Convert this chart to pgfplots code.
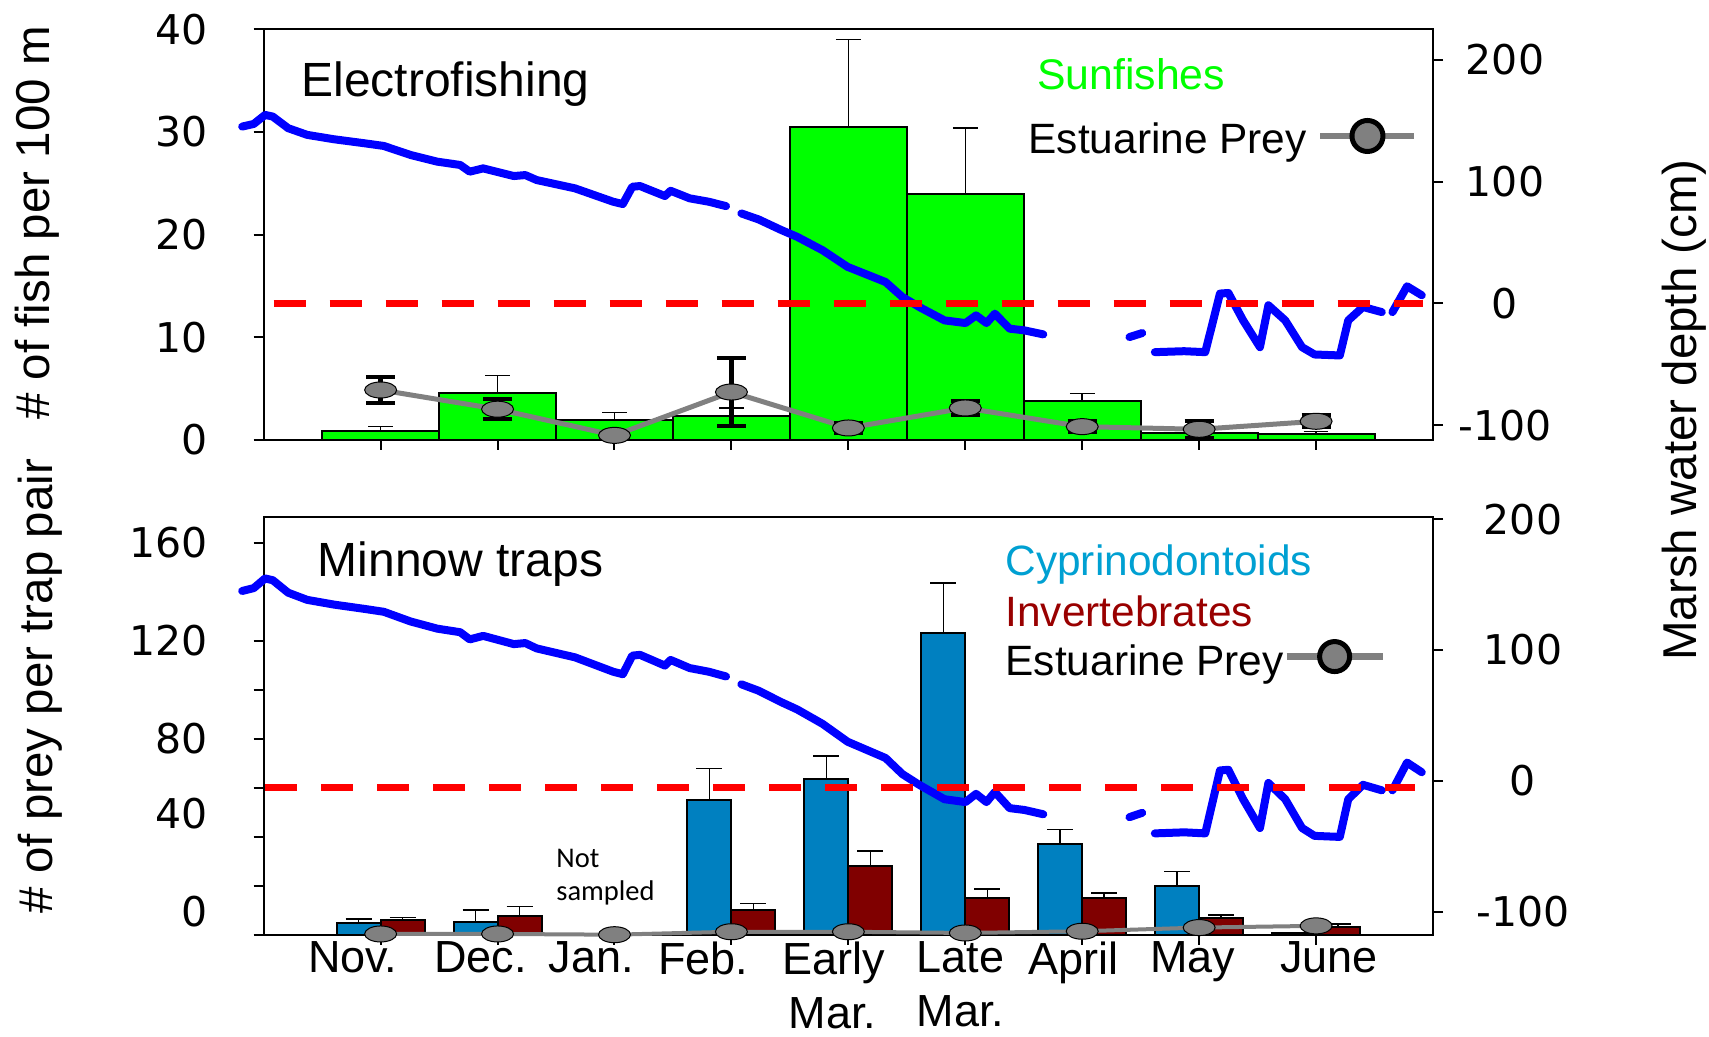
\documentclass[border=0pt]{standalone}
\usepackage{pgfplots}
\usepackage{pgfplotstable}
\pgfplotsset{compat=1.18}
\usepackage{fontspec}
\setmainfont{Liberation Sans}
\newfontfamily\tickfont{DejaVu Sans}
\newfontfamily\calfont{Carlito}

\definecolor{sungreen}{RGB}{0,255,0}
\definecolor{cypbar}{RGB}{0,128,192}
\definecolor{cyptext}{RGB}{0,160,210}
\definecolor{invbar}{RGB}{128,0,0}
\definecolor{invtext}{RGB}{153,0,0}
\definecolor{preygray}{RGB}{128,128,128}
\definecolor{depthblue}{RGB}{0,0,255}
\definecolor{zerored}{RGB}{255,0,0}

% shifted, zero-width tick label: #1 = horizontal shift of the centre
\newcommand\lab[2]{\makebox[0pt]{\hspace*{\dimexpr 2\dimexpr #1\relax\relax}#2}}

\pgfplotstableread{
x y err
0 0.90 0.40
1 4.55 1.75
2 1.90 0.80
3 2.30 0.80
4 30.50 8.50
5 23.95 6.45
6 3.80 0.75
7 0.65 0.20
8 0.60 0.25
}\sunfish

\pgfplotstableread{
x y err
0 4.87 1.30
1 3.00 1.00
2 0.45 0.20
3 4.67 3.30
4 1.17 0.45
5 3.12 0.70
6 1.30 0.55
7 1.04 0.85
8 1.82 0.60
}\preytop

% bar centres: category -/+ 0.188 (the two bars of a pair touch)
\pgfplotstableread{
x y err
-0.188 4.6 1.9
0.812 5.2 4.9
2.812 55.1 12.7
3.812 63.5 9.5
4.812 122.9 20.6
5.812 37.1 5.8
6.812 19.9 5.8
7.812 0.8 0.0
}\cyprino

\pgfplotstableread{
x y err
0.188 5.8 1.2
1.188 7.8 3.8
3.188 10.1 2.7
4.188 28.1 6.1
5.188 14.8 3.8
6.188 15.1 2.0
7.188 7.0 1.1
8.188 3.2 1.1
}\invert

\pgfplotstableread{
x y
0 0.3
1 0.3
2 0.0
3 1.2
4 1.2
5 0.7
6 1.4
7 2.9
8 3.6
}\preybot

\pgfplotstableread{
x d
-1.184 145.1
-1.085 147.3
-0.988 154.7
-0.922 153.3
-0.791 143.8
-0.628 138.3
-0.399 134.7
-0.137 131.4
0.027 129.2
0.256 121.8
0.485 116.3
0.680 113.6
0.762 108.1
0.877 110.8
1.139 104.5
1.237 105.3
1.335 101.2
1.662 94.4
1.989 83.4
2.071 81.5
2.152 95.7
2.218 96.3
2.431 88.1
2.480 92.4
2.643 86.2
2.807 83.4
2.954 79.8
nan nan
3.085 73.8
3.232 68.9
3.428 60.1
3.562 54.6
3.779 43.6
3.994 29.9
4.138 24.4
4.318 17.5
4.462 5.2
4.606 -3.0
4.822 -14.0
5.002 -16.2
5.092 -9.9
5.181 -16.2
5.253 -8.5
5.379 -20.8
5.505 -22.2
5.667 -25.5
nan nan
6.404 -27.7
6.513 -24.4
nan nan
6.621 -40.1
6.872 -39.3
7.052 -40.1
7.178 8.0
7.250 8.5
7.376 -14.0
7.520 -36.0
7.592 -1.6
7.736 -14.0
7.880 -36.0
7.987 -42.0
8.203 -42.8
8.275 -14.0
8.401 -3.0
8.562 -7.2
nan nan
8.653 -7.2
8.778 14.0
8.904 6.6
}\depth

\pgfplotsset{
  panel/.style={scale only axis, width=584.65pt, xmin=-1, xmax=9, clip=false,
    tick align=outside, major tick length=5pt,
    tick style={black, line width=1pt},
    axis line style={black, line width=1pt},
    unbounded coords=jump,
    yticklabel style={font=\tickfont\fontsize{20.5}{24}\selectfont, inner sep=0pt}},
  leftax/.style={panel, ytick pos=left, xtick={0,...,8}, xtick pos=left,
    yticklabel style={anchor=east, xshift=-23pt}},
  rightax/.style={panel, axis y line*=right, axis x line=none,
    ytick={-100,0,100,200}, yticklabels={-100,0,100,200},
    yticklabel style={anchor=center}},
  preylegend/.style={legend style={draw=none, fill=none, inner sep=0pt, outer sep=0pt,
    nodes={inner sep=0pt}, anchor=center}},
  barerr/.style={error bars/.cd, y dir=plus, y explicit,
    error bar style={black, line width=0.75pt},
    error mark options={rotate=90, black, mark size=#1, line width=0.75pt}},
}

\begin{document}
\begin{tikzpicture}
\useasboundingbox (0,0) rectangle (854.5pt,518.5pt);

% ---------- top panel, left axis ----------
\begin{axis}[leftax, at={(131.85pt,298.5pt)}, anchor=south west, height=205.35pt,
  ymin=0, ymax=40, ytick={0,10,20,30,40}, yticklabels={0,10,20,30,40},
  xticklabels={{},{},{},{},{},{},{},{},{}},
  preylegend, legend style={at={(0.9448,0.7402)}}]
\addplot[forget plot, ybar, bar width=58.5pt, fill=sungreen, draw=black, line width=1pt,
  barerr=6.2pt]
  table[x=x, y=y, y error=err]{\sunfish};
\addplot[preygray, line width=2.5pt, mark=*, mark size=4pt,
  mark options={solid, fill=preygray, draw=black, line width=0.5pt, xscale=2},
  legend image code/.code={\draw[preygray, line width=3.3pt] (-23.5pt,0pt) -- (23.5pt,0pt);
    \draw[fill=preygray, draw=black, line width=2.5pt] (0pt,0pt) circle (7.75pt);},
  error bars/.cd, y dir=both, y explicit,
  error bar style={black, line width=2.5pt},
  error mark options={rotate=90, black, mark size=7.25pt, line width=2pt}]
  table[x=x, y=y, y error=err]{\preytop};
\addlegendentry{}
\end{axis}

% ---------- top panel, right axis ----------
\begin{axis}[rightax, at={(131.85pt,298.5pt)}, anchor=south west, height=205.35pt,
  ymin=-112.2, ymax=225, yticklabel style={xshift=31pt}]
\addplot[depthblue, line width=4pt, line cap=round, line join=round] table[x=x, y=d]{\depth};
\addplot[zerored, line width=3.7pt, dash pattern=on 16pt off 12pt] coordinates {(-0.915,0) (8.915,0)};
\end{axis}

% ---------- bottom panel, left axis ----------
\begin{axis}[leftax, at={(131.85pt,51.15pt)}, anchor=south west, height=208.7pt,
  ymin=0, ymax=170.3, ytick={0,20,40,60,80,100,120,160},
  yticklabels={\raisebox{4pt}[0pt][0pt]{0},,\raisebox{4pt}[0pt][0pt]{40},,80,,120,160},
  xticklabels={\lab{-14pt}{Nov.},\lab{-8.5pt}{Dec.},\lab{-11.5pt}{Jan.},\lab{-14pt}{Feb.},
    {\lab{-7.5pt}{Early}\\\lab{-8pt}{Mar.}},{\lab{-2.5pt}{Late}\\\lab{-2.5pt}{Mar.}},
    \lab{-4.25pt}{April},\lab{-3.25pt}{May},\lab{6.5pt}{June}},
  xticklabel style={font=\fontsize{22.5}{27}\selectfont, align=center, inner sep=0pt, anchor=north, yshift=1.6pt},
  preylegend, legend style={at={(0.9167,0.6663)}}]
\addplot[forget plot, ybar, bar width=22pt, fill=cypbar, draw=black, line width=1pt,
  barerr=6.5pt]
  table[x=x, y=y, y error=err]{\cyprino};
\addplot[forget plot, ybar, bar width=22pt, fill=invbar, draw=black, line width=1pt,
  barerr=6.5pt]
  table[x=x, y=y, y error=err]{\invert};
\addplot[preygray, line width=2pt, mark=*, mark size=4pt,
  mark options={solid, fill=preygray, draw=black, line width=0.5pt, xscale=2},
  legend image code/.code={\draw[preygray, line width=3.3pt] (-24pt,0pt) -- (24pt,0pt);
    \draw[fill=preygray, draw=black, line width=2.5pt] (0pt,0pt) circle (7.5pt);}]
  table[x=x, y=y]{\preybot};
\addlegendentry{}
\end{axis}

% ---------- bottom panel, right axis ----------
\begin{axis}[rightax, at={(131.85pt,51.15pt)}, anchor=south west, height=208.7pt,
  ymin=-117.5, ymax=201.4, yticklabel style={xshift=40pt}]
\addplot[depthblue, line width=4pt, line cap=round, line join=round] table[x=x, y=d]{\depth};
\addplot[zerored, line width=3.7pt, dash pattern=on 16pt off 12pt] coordinates {(-0.988,-5.1) (8.85,-5.1)};
\end{axis}

% ---------- texts ----------
\node[anchor=base west, inner sep=0pt, font=\fontsize{24}{28}\selectfont] at (150.5pt,470.15pt) {Electrofishing};
\node[anchor=base west, inner sep=0pt, font=\fontsize{21.4}{25}\selectfont, text=sungreen] at (518.35pt,473.5pt) {Sunfishes};
\node[anchor=base west, inner sep=0pt, font=\fontsize{21.2}{25}\selectfont] at (514.15pt,441.5pt) {Estuarine Prey};

\node[anchor=base west, inner sep=0pt, font=\fontsize{24}{28}\selectfont] at (158.65pt,230.2pt) {Minnow traps};
\node[anchor=base west, inner sep=0pt, font=\fontsize{21.2}{25}\selectfont, text=cyptext] at (502.6pt,230.55pt) {Cyprinodontoids};
\node[anchor=base west, inner sep=0pt, font=\fontsize{21.2}{25}\selectfont, text=invtext] at (502.6pt,205.3pt) {Invertebrates};
\node[anchor=base west, inner sep=0pt, font=\fontsize{21.2}{25}\selectfont] at (502.6pt,180.8pt) {Estuarine Prey};

\node[anchor=base west, inner sep=0pt, font=\calfont\fontsize{14.25}{17}\selectfont] at (278pt,84.9pt) {Not};
\node[anchor=base west, inner sep=0pt, font=\calfont\fontsize{14.25}{17}\selectfont] at (278pt,68pt) {sampled};

\node[rotate=90, anchor=base, inner sep=0pt, font=\fontsize{23.75}{28}\selectfont] at (24.85pt,407pt) {\# of fish per 100 m};
\node[rotate=90, anchor=base, inner sep=0pt, font=\fontsize{23.75}{28}\selectfont] at (26.3pt,175.5pt) {\# of prey per trap pair};
\node[rotate=90, anchor=base, inner sep=0pt, font=\fontsize{23.75}{28}\selectfont] at (848.2pt,313.5pt) {Marsh water depth (cm)};
\end{tikzpicture}
\end{document}
